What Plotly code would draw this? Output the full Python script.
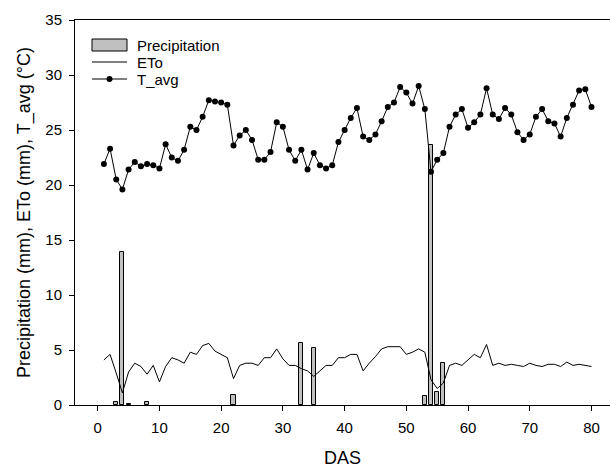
import plotly.graph_objects as go

# ---- data ----
das = list(range(1, 81))

t_avg = [21.9, 23.3, 20.5, 19.6, 21.4, 22.1, 21.7, 21.9, 21.8, 21.5,
         23.7, 22.5, 22.2, 23.2, 25.3, 25.0, 26.2, 27.7, 27.6, 27.5,
         27.3, 23.6, 24.5, 25.0, 24.1, 22.3, 22.3, 23.0, 25.7, 25.3,
         23.2, 22.2, 23.2, 21.4, 22.9, 21.8, 21.5, 21.8, 23.9, 25.0,
         26.1, 27.0, 24.4, 24.1, 24.6, 25.8, 27.1, 27.5, 28.9, 28.4,
         27.4, 29.0, 26.9, 21.2, 22.3, 22.9, 25.3, 26.4, 26.9, 25.2,
         25.7, 26.4, 28.8, 26.4, 26.0, 27.0, 26.4, 24.8, 24.1, 24.6,
         26.2, 26.9, 25.8, 25.6, 24.4, 26.1, 27.3, 28.6, 28.7, 27.1]

eto = [4.1, 4.6, 2.9, 1.1, 3.0, 3.8, 3.5, 2.8, 3.6, 2.1,
       3.5, 4.3, 4.1, 3.8, 4.8, 4.6, 5.4, 5.6, 4.9, 4.6,
       4.3, 2.4, 3.6, 3.8, 3.8, 3.6, 4.3, 4.3, 5.1, 4.2,
       3.6, 3.6, 3.3, 3.1, 2.6, 3.1, 3.6, 3.6, 4.3, 4.3,
       4.6, 4.6, 3.1, 3.8, 4.4, 5.1, 5.3, 5.3, 5.3, 4.6,
       4.8, 5.1, 4.8, 2.3, 1.5, 2.0, 3.6, 3.8, 3.6, 4.1,
       4.6, 4.3, 5.5, 3.6, 3.8, 3.6, 3.7, 3.6, 3.5, 3.8,
       3.6, 3.5, 3.7, 3.7, 3.5, 3.9, 3.6, 3.7, 3.6, 3.5]

precip_days = [3, 4, 5, 8, 22, 33, 35, 53, 54, 55, 56]
precip_vals = [0.3, 13.9, 0.1, 0.3, 0.9, 5.6, 5.2, 0.8, 23.6, 1.2, 3.8]

x_ticks = [0, 10, 20, 30, 40, 50, 60, 70, 80]
y_ticks = [0, 5, 10, 15, 20, 25, 30, 35]

legend_labels = ["Precipitation", "ETo", "T_avg"]

FONT = "Arial, Liberation Sans, sans-serif"

fig = go.Figure()

fig.add_trace(go.Bar(
    x=precip_days, y=precip_vals, width=0.65,
    marker=dict(color="#c0c0c0", line=dict(color="black", width=1)),
    showlegend=False, name="Precipitation"))

fig.add_trace(go.Scatter(
    x=das, y=eto, mode="lines",
    line=dict(color="black", width=1), showlegend=False, name="ETo"))

fig.add_trace(go.Scatter(
    x=das, y=t_avg, mode="lines+markers",
    line=dict(color="black", width=1),
    marker=dict(color="black", size=6),
    showlegend=False, name="T_avg"))

# ---- custom legend (paper coordinates) ----
W, H = 610, 468
ml, mr, mt, mb = 75, 0, 20, 63
pw, ph = W - ml - mr, H - mt - mb

def px(xp):
    return (xp - ml) / pw

def py(yp):
    return (H - mb - yp) / ph

shapes = [
    dict(type="rect", xref="paper", yref="paper",
         x0=px(92), x1=px(127), y0=py(51), y1=py(39),
         fillcolor="#c0c0c0", line=dict(color="black", width=1)),
    dict(type="line", xref="paper", yref="paper",
         x0=px(92), x1=px(127), y0=py(62), y1=py(62),
         line=dict(color="black", width=1)),
    dict(type="line", xref="paper", yref="paper",
         x0=px(92), x1=px(127), y0=py(79), y1=py(79),
         line=dict(color="black", width=1)),
    dict(type="circle", xref="paper", yref="paper",
         x0=px(106.5), x1=px(112.5), y0=py(82), y1=py(76),
         fillcolor="black", line=dict(color="black", width=0)),
]

annotations = []
for lab, yc in zip(legend_labels, [45, 62, 79]):
    annotations.append(dict(
        text=lab, xref="paper", yref="paper", x=px(135), y=py(yc),
        xanchor="left", yanchor="middle", showarrow=False,
        font=dict(family=FONT, size=15, color="black")))

fig.update_layout(
    width=W, height=H,
    margin=dict(l=ml, r=mr, t=mt, b=mb, pad=0),
    paper_bgcolor="white", plot_bgcolor="white",
    font=dict(family=FONT, size=15, color="black"),
    shapes=shapes, annotations=annotations,
    bargap=0,
    xaxis=dict(
        range=[-3.68, 83.0], tickvals=x_ticks, ticks="outside",
        ticklen=5, tickwidth=1, tickcolor="black",
        showline=True, linecolor="black", linewidth=1, mirror=True,
        showgrid=False, zeroline=False, ticklabelstandoff=4,
        title=dict(text="DAS", font=dict(size=18), standoff=18),
        tickfont=dict(size=15)),
    yaxis=dict(
        range=[0, 35], tickvals=y_ticks, ticks="outside",
        ticklen=5, tickwidth=1, tickcolor="black",
        showline=True, linecolor="black", linewidth=1,
        showgrid=False, zeroline=False, ticklabelstandoff=4,
        title=dict(text="Precipitation (mm), ETo (mm), T_avg (°C)",
                   font=dict(size=18), standoff=10),
        tickfont=dict(size=15)),
)

fig.write_html(
    "out.html",
    config={"displayModeBar": False},
    post_script="document.body.style.margin='0';document.body.style.padding='0';"
                "document.documentElement.style.overflow='hidden';")
